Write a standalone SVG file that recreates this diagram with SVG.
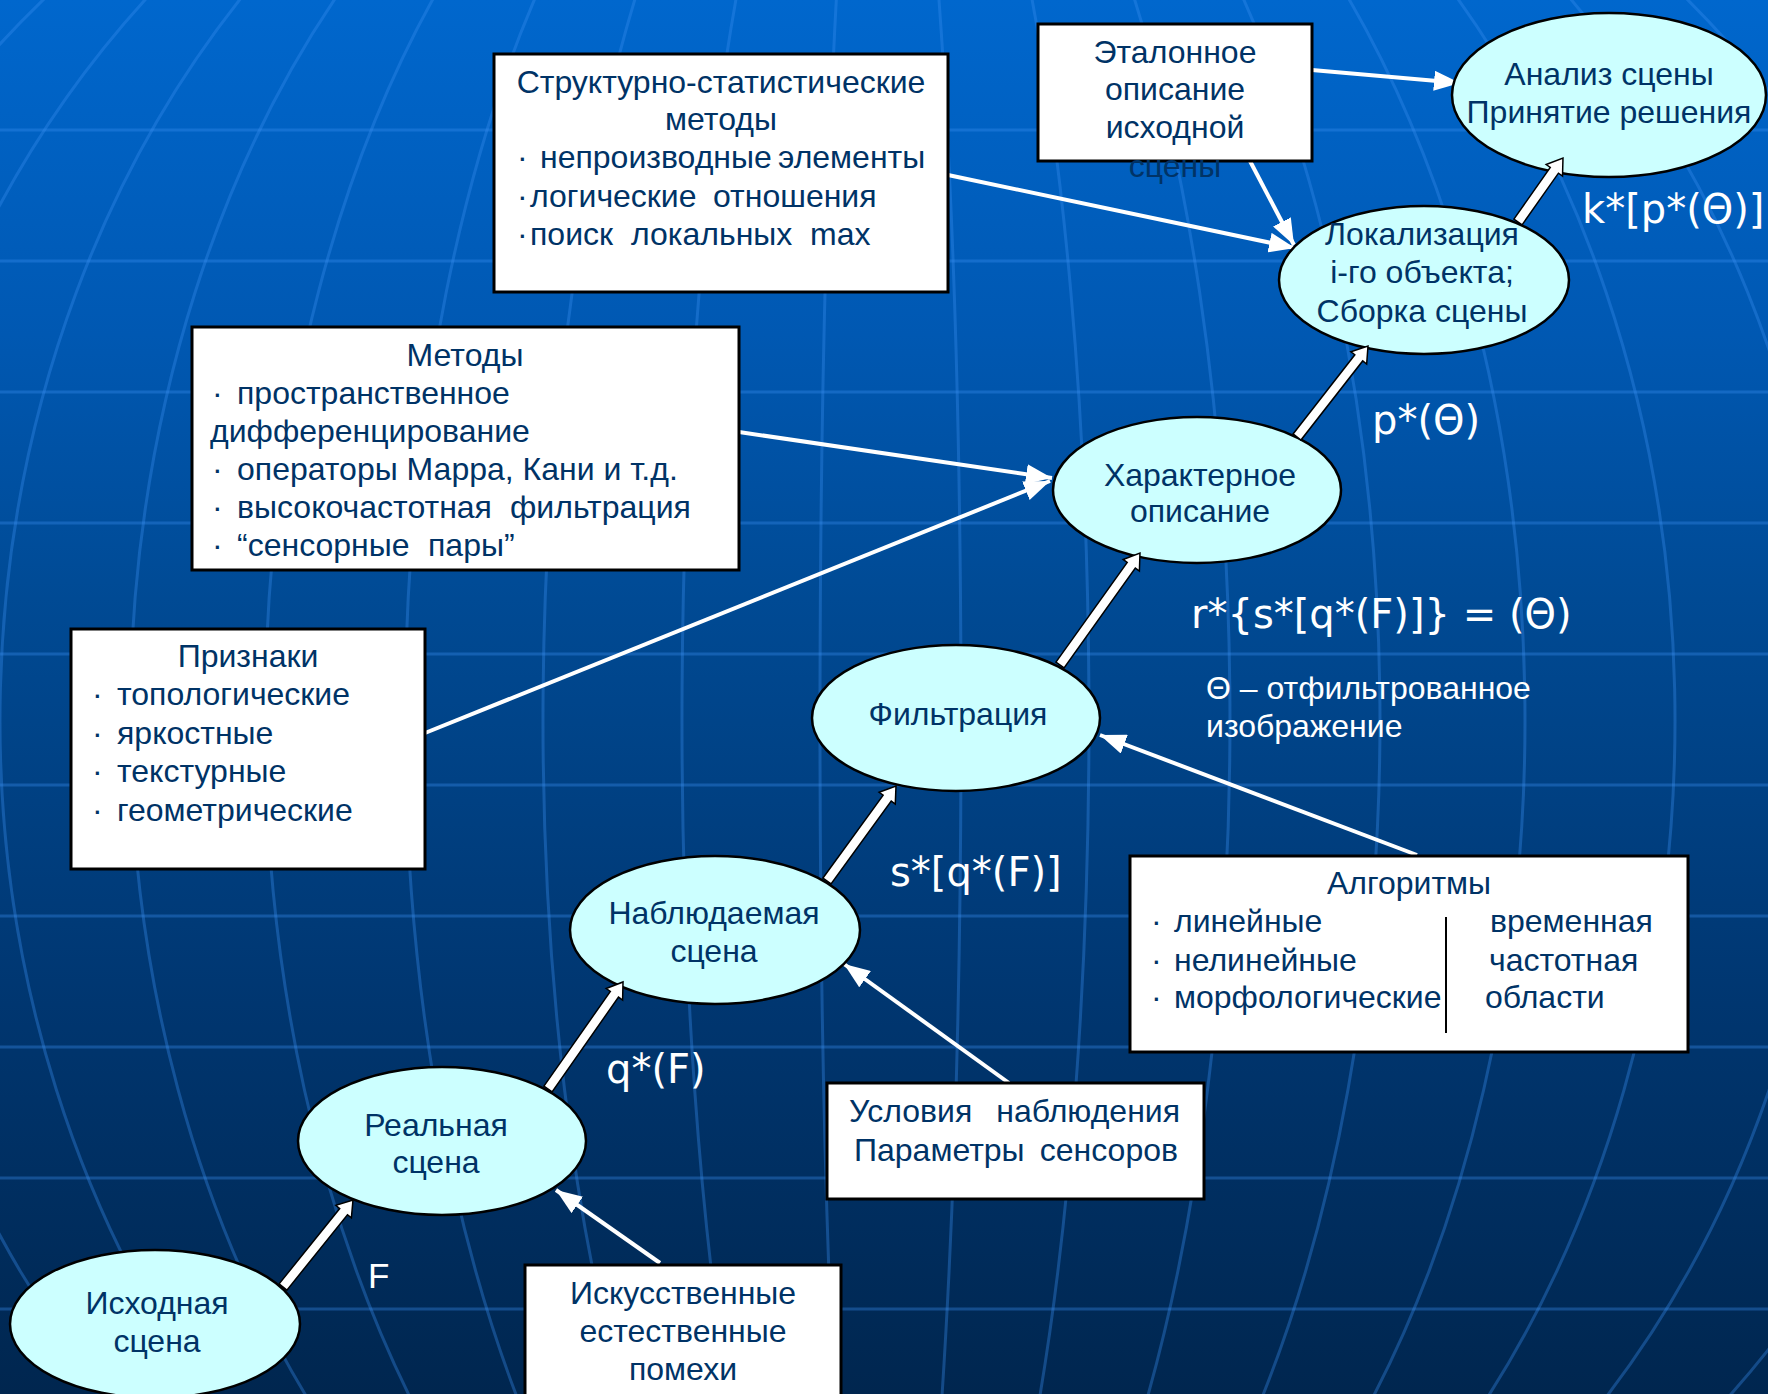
<svg xmlns="http://www.w3.org/2000/svg" width="1768" height="1394" viewBox="0 0 1768 1394">
<defs>
<linearGradient id="bg" x1="0" y1="0" x2="0" y2="1">
<stop offset="0" stop-color="#0067cd"/>
<stop offset="0.24" stop-color="#0058b2"/>
<stop offset="0.43" stop-color="#004a94"/>
<stop offset="0.72" stop-color="#003670"/>
<stop offset="1" stop-color="#00264f"/>
</linearGradient>
<marker id="ah" markerUnits="userSpaceOnUse" markerWidth="26" markerHeight="20" refX="26" refY="10" orient="auto">
<path d="M0,0 L26,10 L0,20 Z" fill="#fff"/>
</marker>
<style>
.grid{stroke:#3a8ef0;stroke-opacity:0.35;stroke-width:3;fill:none}
.box{fill:#fff;stroke:#000;stroke-width:3}
.ell{fill:#ccffff;stroke:#000;stroke-width:2.5}
.thin{stroke:#fff;stroke-width:4;fill:none;marker-end:url(#ah)}
.thick{fill:#fff;stroke:#000;stroke-width:1.5;stroke-linejoin:miter}
.t{font-family:"Liberation Sans",Arial,sans-serif;font-size:32px;fill:#003366}
.c{text-anchor:middle}
.e{text-anchor:end}
.lbl{font-family:"DejaVu Sans",Verdana,sans-serif;font-size:40px;fill:#fff}
.wt{font-family:"Liberation Sans",Arial,sans-serif;font-size:32px;fill:#fff}
</style>
</defs>
<rect x="0" y="0" width="1768" height="1394" fill="url(#bg)"/>
<g id="background-grid">
<path class="grid" d="M0,130H1768M0,261H1768M0,392H1768M0,523H1768M0,654H1768M0,785H1768M0,916H1768M0,1047H1768M0,1178H1768M0,1309H1768"/>
<path class="grid" d="M837.4,-20A60 1050 0 0 0 835,1414"/>
<path class="grid" d="M739.5,-20A198 1050 0 0 0 731.4,1414"/>
<path class="grid" d="M640.9,-20A337 1050 0 0 0 627.1,1414"/>
<path class="grid" d="M543,-20A475 1050 0 0 0 523.6,1414"/>
<path class="grid" d="M443.7,-20A615 1050 0 0 0 418.5,1414"/>
<path class="grid" d="M348,-20A750 1050 0 0 0 317.2,1414"/>
<path class="grid" d="M255.7,-20A880 1050 0 0 0 219.6,1414"/>
<path class="grid" d="M163.5,-20A1010 1050 0 0 0 122.1,1414"/>
<path class="grid" d="M64.2,-20A1150 1050 0 0 0 17,1414"/>
<path class="grid" d="M937.5,-20A81 1050 0 0 1 940.8,1414"/>
<path class="grid" d="M1028.3,-20A209 1050 0 0 1 1036.8,1414"/>
<path class="grid" d="M1128.3,-20A350 1050 0 0 1 1142.6,1414"/>
<path class="grid" d="M1234.7,-20A500 1050 0 0 1 1255.2,1414"/>
<path class="grid" d="M1337.6,-20A645 1050 0 0 1 1364,1414"/>
<path class="grid" d="M1444,-20A795 1050 0 0 1 1476.6,1414"/>
<path class="grid" d="M1554,-20A950 1050 0 0 1 1592.9,1414"/>
<path class="grid" d="M1667.4,-20A1110 1050 0 0 1 1713,1414"/>
</g>
<g id="connectors">
<line class="thin" x1="948" y1="175" x2="1295" y2="248"/>
<line class="thin" x1="1250" y1="161" x2="1294" y2="245"/>
<line class="thin" x1="1312" y1="70" x2="1460" y2="83"/>
<line class="thin" x1="739" y1="432" x2="1052" y2="478"/>
<line class="thin" x1="425" y1="733" x2="1050" y2="481"/>
<line class="thin" x1="1417" y1="855" x2="1100" y2="735"/>
<line class="thin" x1="1009" y1="1083" x2="844" y2="964"/>
<line class="thin" x1="660" y1="1263" x2="556" y2="1190"/>
</g>
<g id="box-struct">
<rect class="box" x="494" y="54" width="454" height="238"/>
<text class="t c" x="721" y="93">Структурно-статистические</text>
<text class="t c" x="721" y="130">методы</text>
<text class="t" y="168"><tspan x="517">·</tspan><tspan x="540">непроизводные</tspan><tspan x="778">элементы</tspan></text>
<text class="t" y="207"><tspan x="517">·</tspan><tspan x="530">логические</tspan><tspan x="713">отношения</tspan></text>
<text class="t" y="245"><tspan x="517">·</tspan><tspan x="530">поиск</tspan><tspan x="631">локальных</tspan><tspan x="810">max</tspan></text>
</g>
<g id="box-etalon">
<rect class="box" x="1038" y="24" width="274" height="137"/>
<text class="t c" x="1175" y="63">Эталонное</text>
<text class="t c" x="1175" y="100">описание</text>
<text class="t c" x="1175" y="138">исходной</text>
<text class="t c" x="1175" y="177">сцены</text>
</g>
<g id="box-methods">
<rect class="box" x="192" y="327" width="547" height="243"/>
<text class="t c" x="465" y="366">Методы</text>
<text class="t" y="404"><tspan x="212">·</tspan><tspan x="237">пространственное</tspan></text>
<text class="t" x="210" y="442">дифференцирование</text>
<text class="t" y="480"><tspan x="212">·</tspan><tspan x="237">операторы Марра, Кани и т.д.</tspan></text>
<text class="t" y="518"><tspan x="212">·</tspan><tspan x="237">высокочастотная</tspan><tspan x="510">фильтрация</tspan></text>
<text class="t" y="556"><tspan x="212">·</tspan><tspan x="237">“сенсорные</tspan><tspan x="428">пары”</tspan></text>
</g>
<g id="box-features">
<rect class="box" x="71" y="629" width="354" height="240"/>
<text class="t c" x="248" y="667">Признаки</text>
<text class="t" y="705"><tspan x="92">·</tspan><tspan x="117">топологические</tspan></text>
<text class="t" y="744"><tspan x="92">·</tspan><tspan x="117">яркостные</tspan></text>
<text class="t" y="782"><tspan x="92">·</tspan><tspan x="117">текстурные</tspan></text>
<text class="t" y="821"><tspan x="92">·</tspan><tspan x="117">геометрические</tspan></text>
</g>
<g id="box-algorithms">
<rect class="box" x="1130" y="856" width="558" height="196"/>
<text class="t c" x="1409" y="894">Алгоритмы</text>
<text class="t" y="932"><tspan x="1151">·</tspan><tspan x="1174">линейные</tspan></text>
<text class="t" y="971"><tspan x="1151">·</tspan><tspan x="1174">нелинейные</tspan></text>
<text class="t" y="1008"><tspan x="1151">·</tspan><tspan x="1174">морфологические</tspan></text>
<text class="t" x="1490" y="932">временная</text>
<text class="t" x="1489" y="971">частотная</text>
<text class="t" x="1485" y="1008">области</text>
<line x1="1446" y1="917" x2="1446" y2="1033" stroke="#000" stroke-width="2"/>
</g>
<g id="box-conditions">
<rect class="box" x="827" y="1083" width="377" height="116"/>
<text class="t" x="849" y="1122">Условия</text>
<text class="t e" x="1180" y="1122">наблюдения</text>
<text class="t" x="854" y="1161">Параметры</text>
<text class="t e" x="1178" y="1161">сенсоров</text>
</g>
<g id="box-noise">
<rect class="box" x="525" y="1265" width="316" height="140"/>
<text class="t c" x="683" y="1304">Искусственные</text>
<text class="t c" x="683" y="1342">естественные</text>
<text class="t c" x="683" y="1380">помехи</text>
</g>
<g id="node-analysis">
<ellipse class="ell" cx="1609" cy="95" rx="157" ry="82"/>
<text class="t c" x="1609" y="85">Анализ сцены</text>
<text class="t c" x="1609" y="123">Принятие решения</text>
</g>
<g id="node-localization">
<ellipse class="ell" cx="1424" cy="280" rx="145" ry="74"/>
<text class="t c" x="1422" y="245">Локализация</text>
<text class="t c" x="1422" y="283">i-го объекта;</text>
<text class="t c" x="1422" y="322">Сборка сцены</text>
</g>
<g id="node-characteristic">
<ellipse class="ell" cx="1197" cy="490" rx="144" ry="73"/>
<text class="t c" x="1200" y="486">Характерное</text>
<text class="t c" x="1200" y="522">описание</text>
</g>
<g id="node-filtering">
<ellipse class="ell" cx="956" cy="718" rx="144" ry="73"/>
<text class="t c" x="958" y="725">Фильтрация</text>
</g>
<g id="node-observed">
<ellipse class="ell" cx="715" cy="930" rx="145" ry="74"/>
<text class="t c" x="714" y="924">Наблюдаемая</text>
<text class="t c" x="714" y="962">сцена</text>
</g>
<g id="node-real">
<ellipse class="ell" cx="442" cy="1141" rx="144" ry="74"/>
<text class="t c" x="436" y="1136">Реальная</text>
<text class="t c" x="436" y="1173">сцена</text>
</g>
<g id="node-source">
<ellipse class="ell" cx="155" cy="1324" rx="145" ry="74"/>
<text class="t c" x="157" y="1314">Исходная</text>
<text class="t c" x="157" y="1352">сцена</text>
</g>
<g id="flow-arrows">
<path class="thick" transform="translate(283,1287) rotate(-51.2)" d="M0,-5H96.7V-10L111.7,0L96.7,10V5H0Z"/>
<path class="thick" transform="translate(548,1089) rotate(-54.97)" d="M0,-5H115.7V-10L130.7,0L115.7,10V5H0Z"/>
<path class="thick" transform="translate(827,881) rotate(-54)" d="M0,-5H102.4V-10L117.4,0L102.4,10V5H0Z"/>
<path class="thick" transform="translate(1060,665) rotate(-54.46)" d="M0,-5H122.6V-10L137.6,0L122.6,10V5H0Z"/>
<path class="thick" transform="translate(1297,437) rotate(-52.03)" d="M0,-5H100.4V-10L115.4,0L100.4,10V5H0Z"/>
<path class="thick" transform="translate(1518,222) rotate(-54.89)" d="M0,-5H63.2V-10L78.2,0L63.2,10V5H0Z"/>
</g>
<g id="labels">
<text class="lbl" x="1582" y="223">k*[p*(Θ)]</text>
<text class="lbl" x="1372" y="434">p*(Θ)</text>
<text class="lbl" x="1191" y="628">r*{s*[q*(F)]} = (Θ)</text>
<text class="lbl" x="890" y="886">s*[q*(F)]</text>
<text class="lbl" x="606" y="1083">q*(F)</text>
<text class="wt" x="368" y="1288" style="font-size:35px">F</text>
<text class="wt" x="1206" y="699">Θ – отфильтрованное</text>
<text class="wt" x="1206" y="737">изображение</text>
</g>
</svg>
